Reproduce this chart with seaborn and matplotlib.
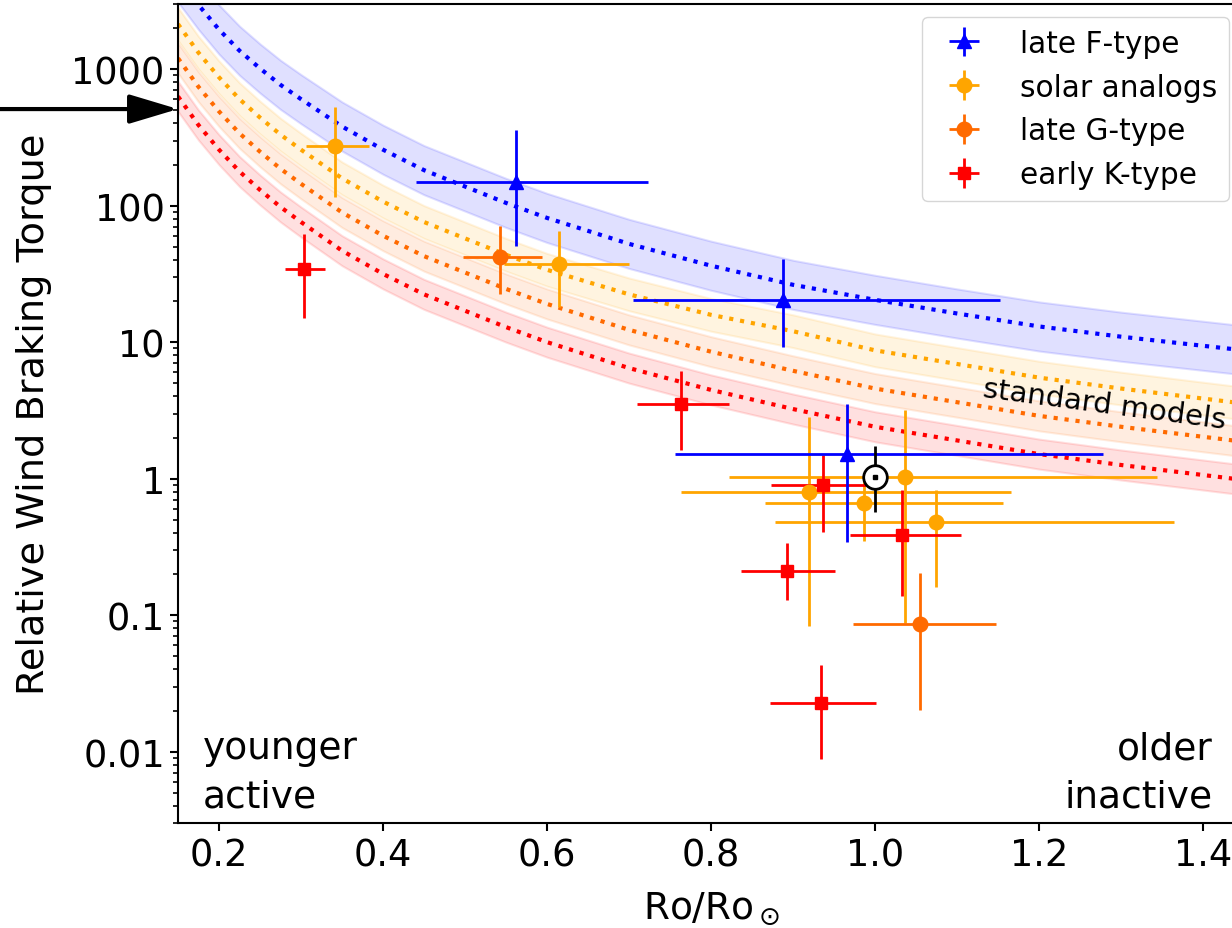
import numpy as np
import pandas as pd
import matplotlib
matplotlib.use("Agg")
import matplotlib.pyplot as plt
import seaborn as sns
from matplotlib.ticker import FixedLocator, FixedFormatter, LogLocator, NullFormatter

# ------------------------------
# model curves, log10 torque
# ------------------------------
ro_grid = [0.15, 0.175, 0.2, 0.225, 0.25, 0.275, 0.3, 0.35, 0.4, 0.45, 0.5, 0.55, 0.6,
           0.7, 0.8, 0.9, 1.0, 1.1, 1.2, 1.3, 1.45]
logT_F = [3.67, 3.47, 3.29, 3.135, 3.005, 2.885, 2.78, 2.58, 2.41, 2.26, 2.14, 2.02, 1.91,
          1.72, 1.56, 1.42, 1.31, 1.21, 1.115, 1.04, 0.94]
logT_sun = [3.33, 3.12, 2.94, 2.78, 2.645, 2.52, 2.41, 2.20, 2.03, 1.88, 1.76, 1.64, 1.53,
            1.35, 1.20, 1.08, 0.94, 0.84, 0.74, 0.66, 0.55]
logT_G = [3.08, 2.87, 2.69, 2.53, 2.395, 2.27, 2.16, 1.95, 1.78, 1.63, 1.51, 1.39, 1.28,
          1.09, 0.93, 0.79, 0.66, 0.56, 0.46, 0.38, 0.27]
logT_K = [2.80, 2.59, 2.41, 2.25, 2.115, 1.99, 1.88, 1.67, 1.50, 1.35, 1.23, 1.11, 1.00,
          0.81, 0.65, 0.51, 0.38, 0.28, 0.18, 0.10, -0.01]
band_dex = [0.18, 0.12, 0.11, 0.11]

groups = ["late F-type", "solar analogs", "late G-type", "early K-type"]
colors = ["blue", "orange", "#ff6a00", "red"]
markers = ["^", "o", "o", "s"]

# ------------------------------
# stars: Ro, Ro range, torque, torque range
# ------------------------------
ro_F = [0.562, 0.888, 0.966]
ro_F_lo = [0.440, 0.705, 0.756]
ro_F_hi = [0.723, 1.152, 1.278]
T_F = [148, 20.5, 1.51]
T_F_lo = [51, 9.2, 0.345]
T_F_hi = [357, 40.6, 3.52]

ro_S = [0.341, 0.614, 0.919, 0.987, 1.037, 1.074]
ro_S_lo = [0.306, 0.547, 0.763, 0.866, 0.822, 0.878]
ro_S_hi = [0.383, 0.700, 1.166, 1.156, 1.344, 1.364]
T_S = [274, 37.1, 0.805, 0.662, 1.02, 0.478]
T_S_lo = [116, 18.1, 0.083, 0.35, 0.088, 0.16]
T_S_hi = [530, 65.4, 2.84, 1.05, 3.19, 0.83]

ro_G = [0.543, 1.055]
ro_G_lo = [0.497, 0.973]
ro_G_hi = [0.594, 1.148]
T_G = [41.7, 0.0859]
T_G_lo = [22.5, 0.0201]
T_G_hi = [71.1, 0.203]

ro_K = [0.304, 0.763, 0.936, 1.033, 0.893, 0.9335]
ro_K_lo = [0.281, 0.710, 0.873, 0.969, 0.836, 0.872]
ro_K_hi = [0.329, 0.822, 0.989, 1.105, 0.951, 1.001]
T_K = [34.1, 3.52, 0.895, 0.387, 0.209, 0.0229]
T_K_lo = [15.0, 1.63, 0.41, 0.138, 0.129, 0.0088]
T_K_hi = [62.5, 6.1, 1.49, 0.83, 0.335, 0.043]

ro_sun = [1.0]
T_sun = [1.02]
T_sun_lo = [0.565]
T_sun_hi = [1.74]

sun_torque_arrow = 510

# ------------------------------
# figure
# ------------------------------
sns.set_style("ticks")
plt.rcParams['font.family'] = ['DejaVu Sans']
plt.rcParams['mathtext.fontset'] = 'dejavusans'
plt.rcParams['text.color'] = 'black'
plt.rcParams['axes.labelcolor'] = 'black'
plt.rcParams['xtick.color'] = 'black'
plt.rcParams['ytick.color'] = 'black'

fig = plt.figure(figsize=(12.32, 9.29), dpi=100)
ax = fig.add_axes([0.1445, 0.113, 0.8653, 0.8816])
ax.set_yscale("log")

model_logs = [logT_F, logT_sun, logT_G, logT_K]
rows = []
for g, lt in zip(groups, model_logs):
    for r, v in zip(ro_grid, lt):
        rows.append({"ro": r, "torque": 10 ** v, "model": g})
models = pd.DataFrame(rows)

for g, lt, c, w in zip(groups, model_logs, colors, band_dex):
    lt = np.array(lt)
    ax.fill_between(ro_grid, 10 ** (lt - w), 10 ** (lt + w), color=c, alpha=0.12, lw=1.5, zorder=1)

sns.lineplot(data=models, x="ro", y="torque", hue="model", palette=dict(zip(groups, colors)),
             estimator=None, sort=True, ls=":", lw=3, legend=False, ax=ax, zorder=2)

data_sets = {
    "late F-type": (ro_F, ro_F_lo, ro_F_hi, T_F, T_F_lo, T_F_hi),
    "solar analogs": (ro_S, ro_S_lo, ro_S_hi, T_S, T_S_lo, T_S_hi),
    "late G-type": (ro_G, ro_G_lo, ro_G_hi, T_G, T_G_lo, T_G_hi),
    "early K-type": (ro_K, ro_K_lo, ro_K_hi, T_K, T_K_lo, T_K_hi),
}
msizes = {"^": 10, "o": 10.5, "s": 9}
handles = {}
for g in ["solar analogs", "late G-type", "early K-type", "late F-type"]:
    i = groups.index(g)
    x, xlo, xhi, y, ylo, yhi = [np.array(a) for a in data_sets[g]]
    h = ax.errorbar(x, y, xerr=[x - xlo, xhi - x], yerr=[y - ylo, yhi - y],
                    fmt=markers[i], color=colors[i], ms=msizes[markers[i]],
                    elinewidth=2, capsize=0, label=g, zorder=3)
    handles[g] = h

# the Sun
ax.errorbar(ro_sun, T_sun, yerr=[[T_sun[0] - T_sun_lo[0]], [T_sun_hi[0] - T_sun[0]]],
            fmt="o", mfc="white", mec="black", ecolor="black", ms=17, mew=2,
            elinewidth=2, capsize=0, zorder=5)
ax.plot(ro_sun, T_sun, "s", color="black", ms=2.5, zorder=6)

ax.set_xlim(0.15, 1.45)
ax.set_ylim(0.003, 3000)
ax.set_xticks([0.2, 0.4, 0.6, 0.8, 1.0, 1.2, 1.4])
ax.yaxis.set_major_locator(FixedLocator([0.01, 0.1, 1, 10, 100, 1000]))
ax.yaxis.set_major_formatter(FixedFormatter(["0.01", "0.1", "1", "10", "100", "1000"]))
ax.yaxis.set_minor_locator(LogLocator(base=10, subs=np.arange(2, 10), numticks=20))
ax.yaxis.set_minor_formatter(NullFormatter())

ax.tick_params(axis="both", which="major", length=6, width=1.5, labelsize=26.5, color="black",
               labelcolor="black")
ax.tick_params(axis="y", which="minor", length=3.5, width=1.2, color="black")
for s in ax.spines.values():
    s.set_linewidth(1.5)
    s.set_color("black")

ax.set_xlabel(r"Ro/Ro$_\odot$", fontsize=27, labelpad=12)
ax.set_ylabel("Relative Wind Braking Torque", fontsize=27.5)
ax.yaxis.set_label_coords(-0.118, 0.5)

ax.text(1.28, 3.5, "standard models", fontsize=21, rotation=-7.5, rotation_mode="anchor",
        ha="center", va="center", zorder=4)
fig.text(0.1648, 0.1217, "younger\nactive", fontsize=27, ha="left", va="bottom",
         linespacing=1.45)
fig.text(0.9846, 0.1217, "older\ninactive", fontsize=27, ha="right", va="bottom",
         multialignment="right", linespacing=1.45)

# arrow marking the solar torque
ax.annotate("", xy=(0.0, sun_torque_arrow), xycoords=("axes fraction", "data"),
            xytext=(-0.17, sun_torque_arrow), textcoords=("axes fraction", "data"),
            arrowprops=dict(arrowstyle="-|>,head_length=1.0,head_width=0.3", lw=3,
                            color="black", shrinkA=0, shrinkB=0, mutation_scale=30),
            annotation_clip=False)

leg = ax.legend([handles[g] for g in groups], groups, loc="upper right",
                bbox_to_anchor=(1229 / 1232, 1 - 18 / 929), bbox_transform=fig.transFigure,
                borderaxespad=0, fontsize=21.3, frameon=True, handletextpad=0.9)

fig.savefig("out.png", dpi=100)
